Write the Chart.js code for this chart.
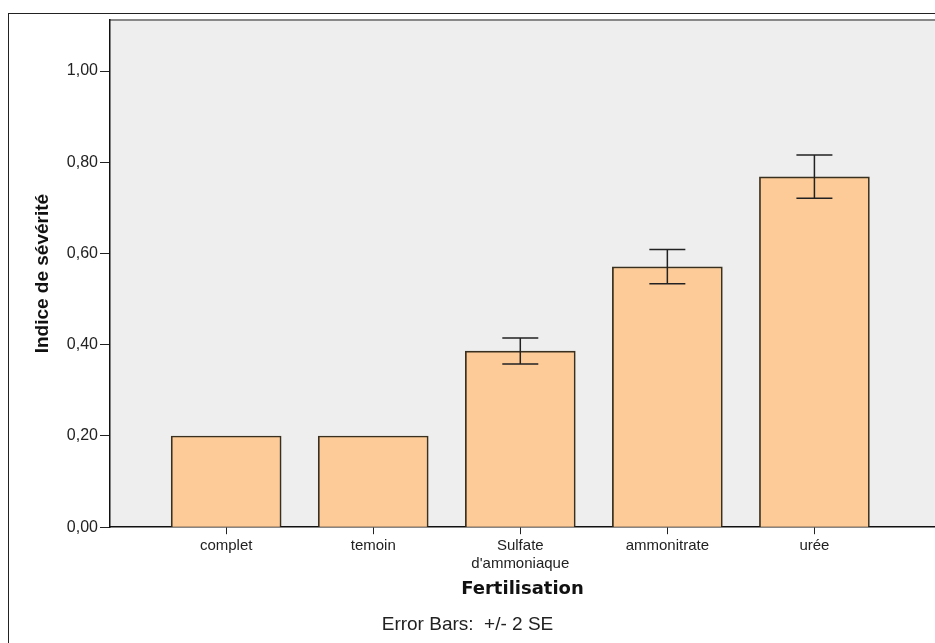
<!DOCTYPE html>
<html>
<head>
<meta charset="utf-8">
<script src="https://cdn.jsdelivr.net/npm/chart.js@4.4.0/dist/chart.umd.min.js"></script>
<style>
  html, body { margin: 0; padding: 0; background: #fff; }
</style>
</head>
<body>
<canvas id="chart" width="935" height="643"></canvas>
<script>
// Data
const categories = ['complet', 'temoin', ['Sulfate', "d'ammoniaque"], 'ammonitrate', 'urée'];
const means = [0.200, 0.200, 0.386, 0.571, 0.768];
const errLow = [null, null, 0.358, 0.534, 0.721];
const errHigh = [null, null, 0.415, 0.609, 0.816];
const yTicks = [0, 0.2, 0.4, 0.6, 0.8, 1.0];

// Plot background, outer frame and top border of the plot
const frame = {
  id: 'frame',
  beforeDraw(chart) {
    const { ctx, chartArea: a } = chart;
    ctx.save();
    ctx.fillStyle = '#eeeeee';
    ctx.fillRect(a.left, a.top, a.right - a.left, a.bottom - a.top);
    ctx.strokeStyle = '#222';
    ctx.lineWidth = 1;
    ctx.strokeRect(8.5, 13.5, 2000, 2000);
    ctx.strokeStyle = '#888';
    ctx.lineWidth = 2;
    ctx.beginPath();
    ctx.moveTo(a.left, a.top);
    ctx.lineTo(a.right, a.top);
    ctx.stroke();
    ctx.restore();
  }
};

// Error bars (+/- 2 SE)
const errorBars = {
  id: 'errorBars',
  afterDatasetsDraw(chart) {
    const { ctx, scales: { x, y } } = chart;
    ctx.save();
    ctx.strokeStyle = '#222';
    ctx.lineWidth = 1.5;
    errLow.forEach((lo, i) => {
      if (lo === null) return;
      const px = x.getPixelForValue(i);
      const yl = y.getPixelForValue(lo);
      const yh = y.getPixelForValue(errHigh[i]);
      const cap = 18;
      ctx.beginPath();
      ctx.moveTo(px, yl); ctx.lineTo(px, yh);
      ctx.moveTo(px - cap, yl); ctx.lineTo(px + cap, yl);
      ctx.moveTo(px - cap, yh); ctx.lineTo(px + cap, yh);
      ctx.stroke();
    });
    ctx.restore();
  }
};

const ctx = document.getElementById('chart').getContext('2d');
new Chart(ctx, {
  type: 'bar',
  data: {
    datasets: [{
      label: 'Indice de sévérité',
      data: means.map((v, i) => ({ x: i, y: v })),
      backgroundColor: '#fdcb98',
      borderColor: '#3a3020',
      borderWidth: 1.7,
      borderSkipped: 'bottom',
      barThickness: 110
    }]
  },
  options: {
    responsive: false,
    animation: false,
    layout: { padding: { top: 20, left: 0, right: 0, bottom: 0 } },
    plugins: {
      legend: { display: false },
      tooltip: { enabled: false },
      subtitle: {
        display: true,
        position: 'bottom',
        text: 'Error Bars:  +/- 2 SE',
        color: '#222',
        font: { family: 'Liberation Sans, Arial', size: 19, weight: 'normal' },
        padding: { top: 10, bottom: 7 }
      }
    },
    scales: {
      x: {
        type: 'linear',
        offset: false,
        min: -0.79,
        max: 4.82,
        afterBuildTicks: s => { s.ticks = categories.map((c, i) => ({ value: i })); },
        afterFit: s => { s.height = 76; },
        ticks: {
          callback: v => categories[v],
          color: '#222',
          font: { family: 'Liberation Sans, Arial', size: 15 },
          padding: 3,
          autoSkip: false,
          maxRotation: 0
        },
        grid: { display: true, offset: false, drawOnChartArea: false, tickLength: 7, color: '#222' },
        border: { color: '#111', width: 1.5 },
        title: {
          display: true,
          text: 'Fertilisation',
          color: '#111',
          font: { family: 'DejaVu Sans', size: 18, weight: 'bold' },
          padding: { top: 0, bottom: 3 }
        }
      },
      y: {
        min: 0,
        max: 1.112,
        afterBuildTicks: s => { s.ticks = yTicks.map(v => ({ value: v })); },
        afterFit: s => { s.width = 110; },
        ticks: {
          callback: v => v.toFixed(2).replace('.', ','),
          color: '#222',
          font: { family: 'Liberation Sans, Arial', size: 16 },
          padding: 2
        },
        grid: { display: true, drawOnChartArea: false, tickLength: 10, color: '#222' },
        border: { color: '#111', width: 1.5 },
        title: {
          display: true,
          text: 'Indice de sévérité',
          color: '#111',
          font: { family: 'Liberation Sans, Arial', size: 19, weight: 'bold' },
          padding: { top: 31, bottom: 0 }
        }
      }
    }
  },
  plugins: [frame, errorBars]
});
</script>
</body>
</html>
